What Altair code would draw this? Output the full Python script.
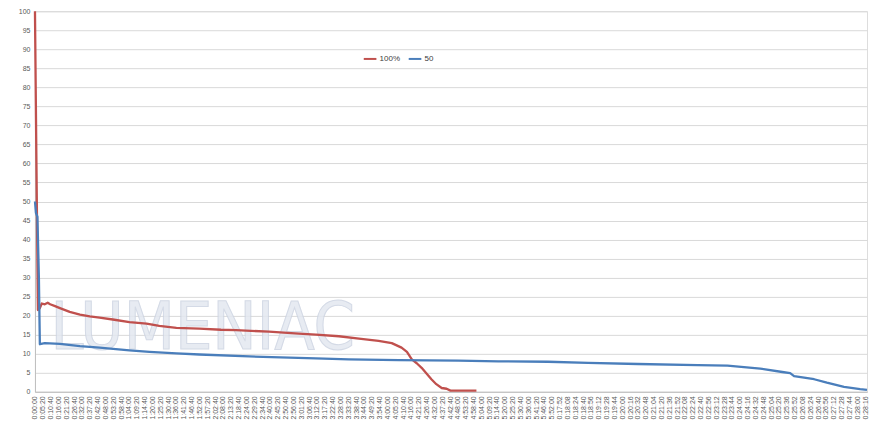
import json
import altair as alt
import pandas as pd

# x = sample index (one category per sample); tick every 16 samples
tick_labels = [
    "0:00:00", "0:05:20", "0:10:40", "0:16:00", "0:21:20", "0:26:40", "0:32:00", "0:37:20",
    "0:42:40", "0:48:00", "0:53:20", "0:58:40", "1:04:00", "1:09:20", "1:14:40", "1:20:00",
    "1:25:20", "1:30:40", "1:36:00", "1:41:20", "1:46:40", "1:52:00", "1:57:20", "2:02:40",
    "2:08:00", "2:13:20", "2:18:40", "2:24:00", "2:29:20", "2:34:40", "2:40:00", "2:45:20",
    "2:50:40", "2:56:00", "3:01:20", "3:06:40", "3:12:00", "3:17:20", "3:22:40", "3:28:00",
    "3:33:20", "3:38:40", "3:44:00", "3:49:20", "3:54:40", "4:00:00", "4:05:20", "4:10:40",
    "4:16:00", "4:21:20", "4:26:40", "4:32:00", "4:37:20", "4:42:40", "4:48:00", "4:53:20",
    "4:58:40", "5:04:00", "5:09:20", "5:14:40", "5:20:00", "5:25:20", "5:30:40", "5:36:00",
    "5:41:20", "5:46:40", "5:52:00",
    "0:17:52", "0:18:08", "0:18:24", "0:18:40", "0:18:56", "0:19:12", "0:19:28", "0:19:44",
    "0:20:00", "0:20:16", "0:20:32", "0:20:48", "0:21:04", "0:21:20", "0:21:36", "0:21:52",
    "0:22:08", "0:22:24", "0:22:40", "0:22:56", "0:23:12", "0:23:28", "0:23:44", "0:24:00",
    "0:24:16", "0:24:32", "0:24:48", "0:25:04", "0:25:20", "0:25:36", "0:25:52", "0:26:08",
    "0:26:24", "0:26:40", "0:26:56", "0:27:12", "0:27:28", "0:27:44", "0:28:00", "0:28:16",
]
tick_step = 16

red_idx = [0, 3, 6, 10, 14, 20, 26, 31, 41, 51, 71, 92, 112, 132, 159, 193, 228, 254, 289,
           336, 380, 411, 478, 539, 574, 621, 662, 702, 729, 749, 760, 770, 780, 790, 800,
           810, 820, 831, 841, 849, 902]
red_val = [100, 60, 21.5, 22.0, 23.2, 23.0, 23.4, 23.0, 22.5, 22.0, 21.0, 20.3, 19.8, 19.5,
           19.0, 18.3, 17.9, 17.3, 16.8, 16.6, 16.3, 16.2, 15.8, 15.3, 15.0, 14.6, 14.0, 13.4,
           12.8, 11.6, 10.5, 8.5, 7.5, 6.3, 4.8, 3.3, 2.0, 1.0, 0.8, 0.3, 0.3]

blue_idx = [0, 2, 5, 8, 10, 20, 51, 92, 132, 193, 234, 289, 336, 438, 574, 641, 743, 865,
            947, 1048, 1130, 1232, 1354, 1415, 1482, 1527, 1543, 1551, 1592, 1618, 1653,
            1686, 1700]
blue_val = [50, 47, 46, 30, 12.5, 12.8, 12.6, 12.0, 11.6, 10.9, 10.5, 10.1, 9.8, 9.3, 8.8,
            8.5, 8.3, 8.2, 8.0, 7.9, 7.6, 7.3, 7.0, 6.9, 6.1, 5.2, 4.9, 4.1, 3.3, 2.4, 1.3,
            0.7, 0.5]

series_names = ["100%", "50"]
series_colors = ["#c0504d", "#4a7ebb"]

df = pd.concat([
    pd.DataFrame({"idx": red_idx, "value": red_val, "series": series_names[0]}),
    pd.DataFrame({"idx": blue_idx, "value": blue_val, "series": series_names[1]}),
])

label_expr = json.dumps(tick_labels) + "[round(datum.value / %d)]" % tick_step
tick_values = [i * tick_step for i in range(len(tick_labels))]

lines = alt.Chart(df).mark_line(strokeWidth=2.3, strokeJoin="round").encode(
    x=alt.X("idx:Q", scale=alt.Scale(domain=[0, 1700], nice=False, zero=False),
            axis=alt.Axis(values=tick_values, labelExpr=label_expr, labelAngle=270,
                          labelAlign="right", labelBaseline="middle", labelOverlap=False,
                          labelFlush=False, labelFontSize=7, labelColor="#595959",
                          labelPadding=4, ticks=False, grid=False, title=None,
                          domainColor="#bfbfbf")),
    y=alt.Y("value:Q", scale=alt.Scale(domain=[0, 100], nice=False),
            axis=alt.Axis(values=list(range(0, 101, 5)), labelFontSize=7,
                          labelColor="#595959", ticks=False, labelPadding=5,
                          gridColor="#d9d9d9", domainColor="#bfbfbf", title=None)),
    color=alt.Color("series:N", sort=series_names,
                    scale=alt.Scale(domain=series_names, range=series_colors),
                    legend=alt.Legend(title=None, orient="none", legendX=328, legendY=40,
                                      direction="horizontal", symbolType="stroke",
                                      symbolSize=160, symbolStrokeWidth=2,
                                      labelFontSize=8, labelColor="#404040",
                                      columnPadding=4, labelOffset=2)),
    order="idx:Q",
)

watermark = alt.Chart(pd.DataFrame({"t": ["LUMENIAC"]})).mark_text(
    font="Liberation Sans Narrow, DejaVu Sans Condensed, Liberation Sans",
    fontSize=66, fill="#e3e8f0", stroke="#cdd4e2", strokeWidth=1, opacity=0.85,
    align="center", baseline="middle",
).encode(text="t:N", x=alt.value(168), y=alt.value(318))

chart = alt.layer(watermark, lines).properties(
    width=833, height=381,
    autosize=alt.AutoSizeParams(type="none"),
    padding={"left": 27, "top": 3, "right": 2, "bottom": 33},
).configure_view(stroke=None).configure(font="Liberation Sans")

chart.save("out.html", embed_options={"renderer": "svg", "actions": False})
